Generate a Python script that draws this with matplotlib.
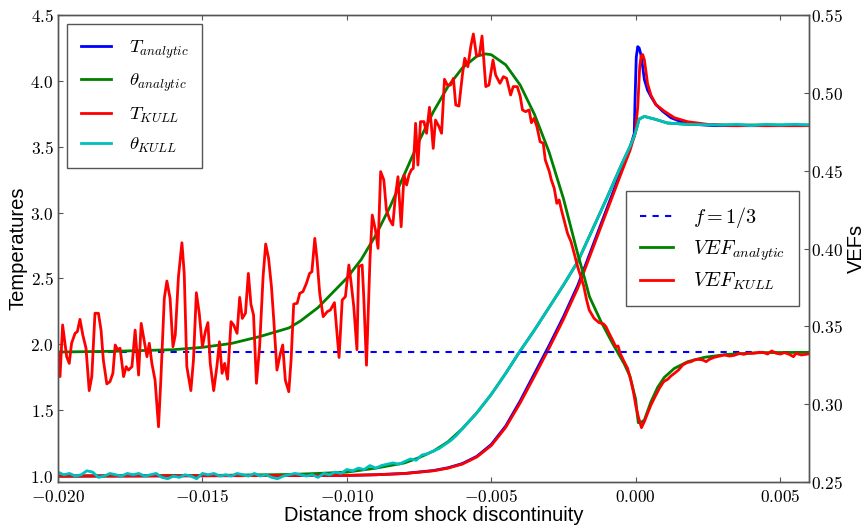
import numpy as np
import matplotlib
matplotlib.use("Agg")
import matplotlib.pyplot as plt
from matplotlib.ticker import FuncFormatter, MultipleLocator

# ── data ───────────────────────────────────────────────────────────────────
# T analytic (left axis)
t_ana = [(-0.0200, 1.000), (-0.0100, 1.005), (-0.0090, 1.010), (-0.0080, 1.020),
         (-0.0070, 1.042), (-0.0065, 1.063), (-0.0060, 1.095), (-0.0055, 1.150),
         (-0.0050, 1.240), (-0.0045, 1.380), (-0.0040, 1.570), (-0.0035, 1.780),
         (-0.0030, 1.990), (-0.0025, 2.210), (-0.0020, 2.450), (-0.0015, 2.740),
         (-0.0010, 3.030), (-0.0005, 3.320), (-0.0002, 3.490), (-0.00005, 3.600),
         (-0.00002, 3.880), (0.00002, 4.180), (0.00007, 4.260), (0.00012, 4.250),
         (0.00018, 4.200), (0.00024, 4.110), (0.00030, 4.010), (0.00041, 3.930),
         (0.00053, 3.880), (0.00070, 3.820), (0.00093, 3.770), (0.00122, 3.720),
         (0.00157, 3.690), (0.00203, 3.670), (0.00272, 3.660), (0.00600, 3.660)]

# theta analytic (left axis)
th_ana = [(-0.0200, 1.000), (-0.0150, 1.004), (-0.0120, 1.012), (-0.0110, 1.020),
          (-0.0100, 1.030), (-0.0090, 1.060), (-0.0080, 1.100), (-0.0075, 1.140),
          (-0.0070, 1.190), (-0.0065, 1.260), (-0.0060, 1.360), (-0.0055, 1.480),
          (-0.0050, 1.620), (-0.0045, 1.780), (-0.0040, 1.950), (-0.0035, 2.110),
          (-0.0030, 2.280), (-0.0025, 2.450), (-0.0020, 2.630), (-0.0015, 2.870),
          (-0.0010, 3.110), (-0.0005, 3.360), (-0.0002, 3.500), (-0.00005, 3.580),
          (0.00002, 3.630), (0.00012, 3.710), (0.00030, 3.730), (0.00065, 3.710),
          (0.00110, 3.680), (0.00180, 3.670), (0.00300, 3.665), (0.00600, 3.665)]

# T KULL (left axis)
t_kull = [(-0.0200, 1.000), (-0.0100, 1.005), (-0.0090, 1.010), (-0.0080, 1.019),
          (-0.0070, 1.040), (-0.0065, 1.060), (-0.0060, 1.091), (-0.0055, 1.145),
          (-0.0050, 1.232), (-0.0045, 1.370), (-0.0040, 1.555), (-0.0035, 1.760),
          (-0.0030, 1.970), (-0.0025, 2.190), (-0.0020, 2.430), (-0.0015, 2.720),
          (-0.0010, 3.010), (-0.0005, 3.300), (-0.0002, 3.470), (-0.00002, 3.600),
          (0.00007, 3.800), (0.00014, 4.110), (0.00019, 4.190), (0.00024, 4.200),
          (0.00030, 4.160), (0.00035, 4.080), (0.00041, 3.980), (0.00053, 3.890),
          (0.00070, 3.820), (0.00099, 3.770), (0.00134, 3.720), (0.00180, 3.690),
          (0.00249, 3.670), (0.00330, 3.660), (0.00600, 3.660)]

# theta KULL (left axis)
th_kull = [(-0.0200, 1.03), (-0.0198, 1.01), (-0.0196, 1.02), (-0.0194, 1.00),
           (-0.0192, 1.01), (-0.0190, 1.04), (-0.0188, 1.03), (-0.0186, 0.99),
           (-0.0184, 1.00), (-0.0182, 1.02), (-0.0180, 1.01), (-0.0178, 1.00),
           (-0.0176, 1.02), (-0.0174, 1.01), (-0.0172, 1.02), (-0.0170, 1.00),
           (-0.0168, 1.01), (-0.0166, 1.02), (-0.0164, 0.99), (-0.0162, 0.98),
           (-0.0160, 1.00), (-0.0158, 0.99), (-0.0156, 1.01), (-0.0154, 1.00),
           (-0.0152, 0.98), (-0.0150, 1.02), (-0.0148, 1.01), (-0.0146, 1.02),
           (-0.0144, 1.00), (-0.0142, 1.01), (-0.0140, 1.00), (-0.0138, 1.02),
           (-0.0136, 1.01), (-0.0134, 1.00), (-0.0132, 1.02), (-0.0130, 1.00),
           (-0.0128, 1.01), (-0.0126, 0.99), (-0.0124, 0.98), (-0.0122, 1.00),
           (-0.0120, 1.01), (-0.0118, 1.02), (-0.0116, 1.01), (-0.0114, 1.00),
           (-0.0112, 1.01), (-0.0110, 0.99), (-0.0108, 1.02), (-0.0106, 1.01),
           (-0.0104, 1.03), (-0.0102, 1.02), (-0.0100, 1.05), (-0.0098, 1.04),
           (-0.0096, 1.06), (-0.0094, 1.05), (-0.0092, 1.08), (-0.0090, 1.06),
           (-0.0088, 1.08), (-0.0086, 1.09), (-0.0084, 1.10), (-0.0082, 1.09),
           (-0.0080, 1.11), (-0.0078, 1.13), (-0.0076, 1.12), (-0.0074, 1.16),
           (-0.0072, 1.17), (-0.0070, 1.19), (-0.0068, 1.21), (-0.0066, 1.24),
           (-0.0064, 1.27), (-0.0062, 1.31), (-0.0060, 1.36), (-0.0055, 1.48),
           (-0.0050, 1.62), (-0.0045, 1.78), (-0.0040, 1.95), (-0.0035, 2.11),
           (-0.0030, 2.28), (-0.0025, 2.45), (-0.0020, 2.63), (-0.0015, 2.87),
           (-0.0010, 3.11), (-0.0005, 3.36), (-0.0002, 3.50), (-0.00005, 3.58),
           (0.00002, 3.63), (0.00012, 3.71), (0.00030, 3.73), (0.00065, 3.71),
           (0.00110, 3.68), (0.00180, 3.67), (0.00300, 3.665), (0.00350, 3.67),
           (0.00400, 3.66), (0.00450, 3.67), (0.00500, 3.665), (0.00550, 3.67),
           (0.00600, 3.665)]

# VEF analytic (right axis)
vef_ana = [(-0.0200, 0.3335), (-0.0180, 0.3340), (-0.0160, 0.3350), (-0.0150, 0.3365),
           (-0.0140, 0.3390), (-0.0130, 0.3435), (-0.0120, 0.3490), (-0.0116, 0.3535),
           (-0.0110, 0.3620), (-0.0100, 0.3810), (-0.0095, 0.3930), (-0.0090, 0.4085),
           (-0.0085, 0.4270), (-0.0080, 0.4480), (-0.0075, 0.4690), (-0.0070, 0.4880),
           (-0.0065, 0.5040), (-0.0060, 0.5160), (-0.0055, 0.5235), (-0.0052, 0.5250),
           (-0.0050, 0.5245), (-0.0045, 0.5180), (-0.0040, 0.5050), (-0.0035, 0.4860),
           (-0.0030, 0.4620), (-0.0025, 0.4320), (-0.0020, 0.3960), (-0.0018, 0.3830),
           (-0.0016, 0.3690), (-0.0012, 0.3530), (-0.0008, 0.3390), (-0.0004, 0.3260),
           (-0.0002, 0.3180), (0.0000, 0.3030), (0.00005, 0.2940), (0.00009, 0.2881),
           (0.00020, 0.2885), (0.00030, 0.2898), (0.00053, 0.3016), (0.00076, 0.3108),
           (0.00099, 0.3172), (0.00134, 0.3230), (0.00180, 0.3273), (0.00238, 0.3301),
           (0.00318, 0.3320), (0.00434, 0.3331), (0.00600, 0.3333)]

# VEF KULL (right axis)
vef_kull = [(-0.01999, 0.3327), (-0.01993, 0.3177), (-0.01984, 0.3509), (-0.01970, 0.3305),
            (-0.01961, 0.3262), (-0.01953, 0.3391), (-0.01941, 0.3455), (-0.01933, 0.3466),
            (-0.01924, 0.3545), (-0.01914, 0.3444), (-0.01903, 0.3359), (-0.01892, 0.3087),
            (-0.01883, 0.3177), (-0.01872, 0.3584), (-0.01860, 0.3584), (-0.01851, 0.3476),
            (-0.01843, 0.3284), (-0.01831, 0.3130), (-0.01820, 0.3145), (-0.01810, 0.3198),
            (-0.01802, 0.3380), (-0.01794, 0.3352), (-0.01785, 0.3359), (-0.01773, 0.3177),
            (-0.01764, 0.3241), (-0.01756, 0.3219), (-0.01744, 0.3241), (-0.01733, 0.3476),
            (-0.01721, 0.3187), (-0.01712, 0.3519), (-0.01702, 0.3412), (-0.01692, 0.3305),
            (-0.01684, 0.3391), (-0.01675, 0.3262), (-0.01664, 0.3155), (-0.01652, 0.2855),
            (-0.01644, 0.3155), (-0.01632, 0.3680), (-0.01623, 0.3791), (-0.01612, 0.3680),
            (-0.01602, 0.3369), (-0.01594, 0.3444), (-0.01583, 0.3819), (-0.01571, 0.4037),
            (-0.01563, 0.3840), (-0.01554, 0.3241), (-0.01540, 0.3087), (-0.01531, 0.3284),
            (-0.01521, 0.3716), (-0.01511, 0.3584), (-0.01500, 0.3369), (-0.01490, 0.3466),
            (-0.01481, 0.3524), (-0.01473, 0.3262), (-0.01461, 0.3087), (-0.01450, 0.3241),
            (-0.01441, 0.3401), (-0.01432, 0.3198), (-0.01423, 0.3262), (-0.01413, 0.3160),
            (-0.01401, 0.3530), (-0.01392, 0.3509), (-0.01380, 0.3455), (-0.01371, 0.3686),
            (-0.01362, 0.3551), (-0.01351, 0.3584), (-0.01341, 0.3840), (-0.01332, 0.3641),
            (-0.01323, 0.3573), (-0.01313, 0.3134), (-0.01302, 0.3369), (-0.01290, 0.3819),
            (-0.01281, 0.4029), (-0.01271, 0.3937), (-0.01261, 0.3755), (-0.01253, 0.3541),
            (-0.01242, 0.3219), (-0.01230, 0.3327), (-0.01222, 0.3380), (-0.01213, 0.3155),
            (-0.01201, 0.3080), (-0.01193, 0.3284), (-0.01184, 0.3643), (-0.01172, 0.3648),
            (-0.01163, 0.3712), (-0.01152, 0.3723), (-0.01140, 0.3776), (-0.01129, 0.3840),
            (-0.01121, 0.3851), (-0.01111, 0.4065), (-0.01103, 0.3926), (-0.01094, 0.3712),
            (-0.01082, 0.3562), (-0.01068, 0.3594), (-0.01057, 0.3605), (-0.01043, 0.3652),
            (-0.01027, 0.3300), (-0.01016, 0.3669), (-0.01005, 0.3691), (-0.00993, 0.3894),
            (-0.00985, 0.3776), (-0.00976, 0.3626), (-0.00965, 0.3350), (-0.00959, 0.3884),
            (-0.00947, 0.3894), (-0.00942, 0.3712), (-0.00932, 0.3250), (-0.00920, 0.3926),
            (-0.00912, 0.4215), (-0.00901, 0.4119), (-0.00892, 0.4001), (-0.00883, 0.4494),
            (-0.00872, 0.4440), (-0.00863, 0.4247), (-0.00851, 0.4183), (-0.00841, 0.4151),
            (-0.00832, 0.4333), (-0.00823, 0.4461), (-0.00812, 0.4140), (-0.00802, 0.4472),
            (-0.00793, 0.4408), (-0.00785, 0.4472), (-0.00777, 0.4504), (-0.00770, 0.4515),
            (-0.00762, 0.4804), (-0.00754, 0.4536), (-0.00745, 0.4815), (-0.00733, 0.4815),
            (-0.00724, 0.4740), (-0.00714, 0.4907), (-0.00708, 0.4804), (-0.00701, 0.4643),
            (-0.00693, 0.4825), (-0.00681, 0.4783), (-0.00672, 0.4740), (-0.00662, 0.5087),
            (-0.00652, 0.5050), (-0.00641, 0.5050), (-0.00631, 0.5093), (-0.00623, 0.4922),
            (-0.00612, 0.4915), (-0.00600, 0.5115), (-0.00592, 0.5222), (-0.00581, 0.5168),
            (-0.00571, 0.5297), (-0.00562, 0.5378), (-0.00551, 0.5237), (-0.00541, 0.5243),
            (-0.00532, 0.5365), (-0.00519, 0.5040), (-0.00508, 0.5050), (-0.00494, 0.5211),
            (-0.00485, 0.5115), (-0.00470, 0.5061), (-0.00458, 0.5104), (-0.00447, 0.5093),
            (-0.00433, 0.4986), (-0.00424, 0.5040), (-0.00410, 0.5040), (-0.00400, 0.4980),
            (-0.00392, 0.4890), (-0.00381, 0.4879), (-0.00369, 0.4890), (-0.00361, 0.4808),
            (-0.00352, 0.4836), (-0.00342, 0.4783), (-0.00331, 0.4686), (-0.00320, 0.4676),
            (-0.00313, 0.4569), (-0.00299, 0.4494), (-0.00292, 0.4440), (-0.00282, 0.4387),
            (-0.00273, 0.4290), (-0.00265, 0.4312), (-0.00257, 0.4247), (-0.00245, 0.4162),
            (-0.00236, 0.4097), (-0.00224, 0.4044), (-0.00213, 0.3969), (-0.00201, 0.3883),
            (-0.00190, 0.3819), (-0.00180, 0.3760), (-0.00170, 0.3670), (-0.00161, 0.3605),
            (-0.00144, 0.3551), (-0.00127, 0.3524), (-0.00111, 0.3515), (-0.00103, 0.3498),
            (-0.00092, 0.3455), (-0.00080, 0.3412), (-0.00069, 0.3369), (-0.00061, 0.3374),
            (-0.00054, 0.3327), (-0.00040, 0.3273), (-0.00028, 0.3230), (-0.00017, 0.3155),
            (-0.00007, 0.3070), (0.00001, 0.2984), (0.00009, 0.2920), (0.00020, 0.2849),
            (0.00030, 0.2888), (0.00041, 0.2941), (0.00053, 0.2995), (0.00067, 0.3048),
            (0.00082, 0.3102), (0.00097, 0.3145), (0.00111, 0.3160), (0.00122, 0.3181),
            (0.00134, 0.3198), (0.00148, 0.3219), (0.00163, 0.3252), (0.00178, 0.3267),
            (0.00192, 0.3273), (0.00203, 0.3284), (0.00217, 0.3288), (0.00232, 0.3284),
            (0.00244, 0.3273), (0.00255, 0.3288), (0.00272, 0.3301), (0.00290, 0.3309),
            (0.00307, 0.3316), (0.00324, 0.3309), (0.00342, 0.3314), (0.00359, 0.3327),
            (0.00374, 0.3320), (0.00388, 0.3327), (0.00405, 0.3327), (0.00422, 0.3331),
            (0.00440, 0.3333), (0.00457, 0.3322), (0.00471, 0.3342), (0.00486, 0.3327),
            (0.00501, 0.3322), (0.00515, 0.3331), (0.00532, 0.3320), (0.00546, 0.3305),
            (0.00555, 0.3327), (0.00573, 0.3316), (0.00596, 0.3322)]

F_EDD = 1.0 / 3.0

# ── style ──────────────────────────────────────────────────────────────────
plt.rcParams["mathtext.fontset"] = "cm"
plt.rcParams["xtick.direction"] = "in"
plt.rcParams["ytick.direction"] = "in"

LABEL_FONT = dict(family="Liberation Sans", fontsize=14.5)
TICK_FS = 12.5
SPINE_CLR = "#555555"


def xy(pairs):
    a = np.array(pairs, dtype=float)
    return a[:, 0], a[:, 1]


fig = plt.figure(figsize=(8.65, 5.26), dpi=100)
ax = fig.add_axes([58 / 865, 1 - 482 / 526, 751 / 865, 467 / 526])
ax2 = ax.twinx()

# left axis: temperatures
ax.plot(*xy(t_ana), color="b", lw=2, label=r"$T_{analytic}$")
ax.plot(*xy(th_ana), color="g", lw=2, label=r"$\theta_{analytic}$")
ax.plot(*xy(t_kull), color="r", lw=2, label=r"$T_{KULL}$")
ax.plot(*xy(th_kull), color="c", lw=2, label=r"$\theta_{KULL}$")

# right axis: VEFs
ax2.axhline(F_EDD, color="b", lw=1.5, ls=(0, (3, 3)), label=r"$f=1/3$")
ax2.plot(*xy(vef_ana), color="g", lw=2, label=r"$VEF_{analytic}$")
ax2.plot(*xy(vef_kull), color="r", lw=2, label=r"$VEF_{KULL}$")

ax.set_xlim(-0.020, 0.006)
ax.set_ylim(0.955, 4.5)
ax2.set_ylim(0.25, 0.55)

ax.xaxis.set_major_locator(MultipleLocator(0.005))
ax.yaxis.set_major_locator(MultipleLocator(0.5))
ax2.yaxis.set_major_locator(MultipleLocator(0.05))
ax.xaxis.set_major_formatter(FuncFormatter(lambda v, p: r"$%.3f$" % v))
ax.yaxis.set_major_formatter(FuncFormatter(lambda v, p: r"$%.1f$" % v))
ax2.yaxis.set_major_formatter(FuncFormatter(lambda v, p: r"$%.2f$" % v))

ax.tick_params(axis="x", top=True, labelsize=TICK_FS, length=3.5, pad=4,
               color=SPINE_CLR)
ax.tick_params(axis="y", labelsize=TICK_FS, length=3.5, pad=3, color=SPINE_CLR)
ax2.tick_params(axis="y", labelsize=TICK_FS, length=3.5, pad=1.5, color=SPINE_CLR)

for a in (ax, ax2):
    for s in a.spines.values():
        s.set_color(SPINE_CLR)
        s.set_linewidth(1.0)

ax.set_xlabel("Distance from shock discontinuity", labelpad=0, **LABEL_FONT)
ax.set_ylabel("Temperatures", labelpad=2, **LABEL_FONT)
ax2.set_ylabel("VEFs", labelpad=3, **LABEL_FONT)

leg1 = ax.legend(loc="upper left", fontsize=13.5, handlelength=1.6,
                 handletextpad=1.0, labelspacing=0.55, borderpad=0.7,
                 borderaxespad=0.5, fancybox=False, framealpha=1,
                 edgecolor=SPINE_CLR)
leg2 = ax2.legend(loc="center right", fontsize=14.5, handlelength=1.6,
                  handletextpad=1.0, labelspacing=0.4, borderpad=0.7,
                  borderaxespad=0.5, fancybox=False, framealpha=1,
                  edgecolor=SPINE_CLR)

fig.savefig("out.png", dpi=100)
